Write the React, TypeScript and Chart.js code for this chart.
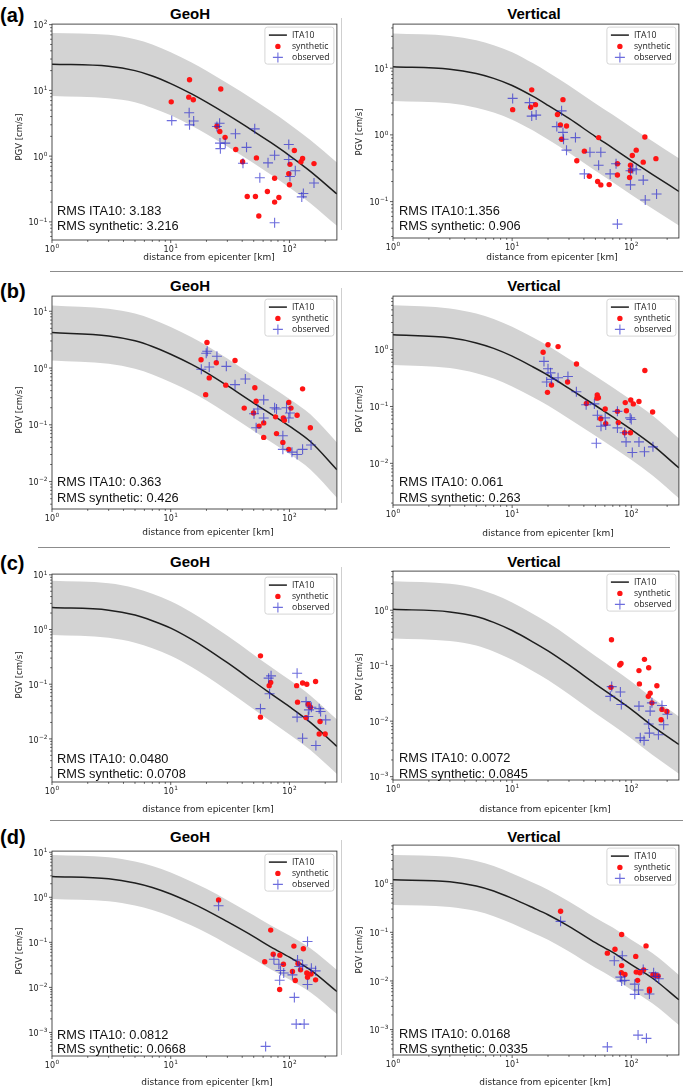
import React, { useEffect, useRef } from 'react';
import { Chart, registerables } from 'chart.js';

Chart.register(...registerables);

// ---------------- shared axis / text content ----------------
const CURVE_DIST = [1, 3, 5, 7, 10, 15, 20, 30, 50, 70, 100, 150, 251];
const X_MIN = 1;
const X_MAX = 251;
const X_TICK_VALUES = [1, 10, 100];
const X_TICK_EXP = ['0', '1', '2'];
const Y_TICK_VALUES = [0.001, 0.01, 0.1, 1, 10, 100];
const Y_TICK_EXP = ['−3', '−2', '−1', '0', '1', '2'];
const TICK_BASE = '10';
const LEGEND_LABELS = ['ITA10', 'synthetic', 'observed'];
const ROW_LABELS = ['(a)', '(b)', '(c)', '(d)'];
const COMPONENT_TITLES = ['GeoH', 'Vertical'];
const X_TITLE = 'distance from epicenter [km]';
const Y_TITLE = 'PGV [cm/s]';
const RMS_ITA10 = ['RMS ITA10: 3.183', 'RMS ITA10:1.356', 'RMS ITA10: 0.363', 'RMS ITA10: 0.061', 'RMS ITA10: 0.0480', 'RMS ITA10: 0.0072', 'RMS ITA10: 0.0812', 'RMS ITA10: 0.0168'];
const RMS_SYN = ['RMS synthetic: 3.216', 'RMS synthetic: 0.906', 'RMS synthetic: 0.426', 'RMS synthetic: 0.263', 'RMS synthetic: 0.0708', 'RMS synthetic: 0.0845', 'RMS synthetic: 0.0668', 'RMS synthetic: 0.0335'];

// ---------------- (a) GeoH ----------------
const A_H_ITA10 = [25.1, 23.3, 20.0, 16.6, 12.7, 8.83, 6.62, 4.28, 2.39, 1.6, 1.02, 0.587, 0.266];
const A_H_UPPER = [75, 70, 60, 50, 38, 26.5, 19.9, 12.8, 7.2, 4.8, 3.06, 1.76, 0.8];
const A_H_LOWER = [8.2, 7.6, 6.6, 5.4, 4.2, 2.9, 2.17, 1.4, 0.78, 0.52, 0.334, 0.192, 0.087];
const A_H_SYN_DIST = [10.1, 14.4, 14.2, 15.5, 26.4, 24.5, 25.9, 28.7, 35.3, 40.3, 44.1, 52.7, 51.7, 55.2, 65.2, 75, 75, 81.5, 98.7, 100, 101, 110, 125, 129, 161];
const A_H_SYN_PGV = [6.7, 14.5, 7.9, 7.2, 10.5, 2.85, 2.37, 1.93, 1.26, 0.82, 0.243, 0.94, 0.243, 0.123, 0.29, 0.46, 0.2, 0.235, 0.54, 0.367, 0.75, 1.22, 0.82, 0.92, 0.77];
const A_H_OBS_DIST = [10.2, 14.3, 14.4, 15.6, 24.5, 25.8, 26, 26.2, 28.8, 35.1, 43.5, 40.6, 51, 56.3, 66, 75, 75, 98.7, 98.7, 101, 112, 127, 131, 161];
const A_H_OBS_PGV = [3.47, 4.57, 2.99, 3.43, 2.82, 3.16, 1.58, 1.3, 1.58, 2.19, 1.36, 0.78, 2.6, 0.47, 0.79, 1.03, 0.097, 1.5, 0.89, 0.49, 0.6, 0.24, 0.27, 0.39];

// ---------------- (a) Vertical ----------------
const A_V_ITA10 = [10.5, 9.66, 8.32, 7.03, 5.5, 3.77, 2.77, 1.76, 0.944, 0.635, 0.413, 0.257, 0.142];
const A_V_UPPER = [33, 30.3, 26.1, 22.1, 17.3, 11.8, 8.7, 5.5, 2.96, 2.0, 1.3, 0.81, 0.446];
const A_V_LOWER = [3.23, 2.97, 2.56, 2.16, 1.69, 1.16, 0.85, 0.54, 0.29, 0.195, 0.127, 0.079, 0.0437];
const A_V_SYN_DIST = [10.1, 14.6, 14.3, 15.7, 24, 26.7, 25.4, 28.6, 26, 40.4, 34.9, 53.2, 44.5, 52.2, 55.5, 65.2, 76.5, 76.5, 96.8, 98.5, 102, 110, 126, 130, 161, 98.5];
const A_V_SYN_PGV = [2.39, 4.73, 2.6, 2.84, 2.02, 3.37, 1.41, 1.36, 0.86, 0.57, 0.41, 0.91, 0.24, 0.2, 0.178, 0.18, 0.37, 0.25, 0.23, 0.35, 0.49, 0.59, 0.39, 0.93, 0.44, 0.29];
const A_V_OBS_DIST = [10.1, 14, 14.6, 15.9, 23.7, 26, 26.7, 27, 28.6, 34, 40.4, 45, 53.2, 55.5, 66.5, 74.5, 76.5, 98.5, 98.5, 103, 110, 126, 131, 163];
const A_V_OBS_PGV = [3.52, 3.04, 1.91, 1.98, 1.33, 2.29, 1.09, 0.86, 0.59, 0.91, 0.26, 0.55, 0.35, 0.55, 0.26, 0.37, 0.046, 0.29, 0.178, 0.31, 0.3, 0.21, 0.106, 0.13];

// ---------------- (b) GeoH ----------------
const B_H_ITA10 = [4.21, 3.68, 3.02, 2.4, 1.75, 1.16, 0.83, 0.488, 0.241, 0.155, 0.0948, 0.0507, 0.0162];
const B_H_UPPER = [12.7, 11.1, 9.1, 7.25, 5.3, 3.5, 2.5, 1.47, 0.73, 0.47, 0.286, 0.153, 0.049];
const B_H_LOWER = [1.36, 1.19, 0.97, 0.77, 0.56, 0.374, 0.268, 0.157, 0.078, 0.05, 0.0306, 0.0164, 0.0052];
const B_H_SYN_DIST = [20.2, 18, 24.2, 34.8, 21.1, 29.1, 19.7, 41.6, 51.1, 52.4, 49.8, 55.5, 60.7, 60.7, 76.4, 77.8, 88, 88.8, 90.6, 98.7, 103, 98.7, 116, 129, 150];
const B_H_SYN_PGV = [2.82, 1.4, 1.24, 1.36, 0.67, 0.5, 0.34, 0.197, 0.45, 0.26, 0.161, 0.095, 0.108, 0.06, 0.138, 0.07, 0.049, 0.132, 0.12, 0.247, 0.197, 0.037, 0.147, 0.43, 0.089];
const B_H_OBS_DIST = [18.1, 19.9, 20.3, 21.1, 24.5, 29.4, 34.8, 42.5, 50.3, 52.4, 54.2, 60.7, 60.7, 75, 77.8, 88, 88, 94.5, 98.7, 101, 105, 116, 129, 152];
const B_H_OBS_PGV = [0.95, 1.82, 1.97, 1.04, 1.61, 1.07, 0.51, 0.64, 0.157, 0.089, 0.19, 0.275, 0.132, 0.2, 0.19, 0.064, 0.037, 0.2, 0.132, 0.161, 0.033, 0.03, 0.037, 0.044];

// ---------------- (b) Vertical ----------------
const B_V_ITA10 = [1.82, 1.61, 1.31, 1.05, 0.766, 0.494, 0.354, 0.208, 0.104, 0.0653, 0.0394, 0.0211, 0.0083];
const B_V_UPPER = [6.0, 5.3, 4.3, 3.47, 2.53, 1.63, 1.17, 0.686, 0.343, 0.215, 0.13, 0.07, 0.0274];
const B_V_LOWER = [0.535, 0.474, 0.385, 0.309, 0.225, 0.145, 0.104, 0.061, 0.0306, 0.0192, 0.0116, 0.0062, 0.00244];
const B_V_SYN_DIST = [18.2, 20, 24.3, 34.7, 21.4, 19.8, 29.2, 42, 51.8, 51.5, 53, 60.4, 55.4, 61, 76.5, 77.8, 89, 91, 88, 99, 104, 98.5, 116, 130, 151];
const B_V_SYN_PGV = [0.9, 1.22, 1.13, 0.56, 0.238, 0.177, 0.27, 0.113, 0.159, 0.14, 0.143, 0.09, 0.061, 0.05, 0.082, 0.052, 0.117, 0.084, 0.0345, 0.13, 0.111, 0.0345, 0.122, 0.43, 0.08];
const B_V_OBS_DIST = [18.5, 20, 19.5, 21, 21.4, 24.3, 29.4, 34.6, 41.8, 49, 52, 55.7, 50.9, 60.4, 61, 76.5, 76.5, 88, 90.4, 97.8, 100, 102, 116, 129, 152];
const B_V_OBS_PGV = [0.62, 0.46, 0.27, 0.39, 0.3, 0.32, 0.336, 0.182, 0.107, 0.111, 0.07, 0.045, 0.0225, 0.063, 0.047, 0.082, 0.042, 0.0345, 0.0238, 0.063, 0.059, 0.0155, 0.0238, 0.016, 0.0195];

// ---------------- (c) GeoH ----------------
const C_H_ITA10 = [2.52, 2.26, 1.84, 1.45, 1.06, 0.66, 0.449, 0.247, 0.112, 0.0665, 0.0388, 0.02, 0.0073];
const C_H_UPPER = [7.8, 7.0, 5.7, 4.5, 3.29, 2.05, 1.39, 0.766, 0.347, 0.206, 0.12, 0.062, 0.0226];
const C_H_LOWER = [0.79, 0.706, 0.575, 0.453, 0.331, 0.206, 0.14, 0.077, 0.035, 0.0208, 0.0121, 0.00625, 0.00228];
const C_H_SYN_DIST = [57, 67.5, 69.5, 57, 115, 117, 129, 140, 144, 150, 138, 166, 181, 178, 200];
const C_H_SYN_PGV = [0.33, 0.094, 0.108, 0.025, 0.094, 0.047, 0.105, 0.1, 0.043, 0.038, 0.0245, 0.112, 0.0208, 0.0123, 0.0123];
const C_H_OBS_DIST = [66.8, 57, 70, 68, 116, 116, 129, 138, 144, 146, 153, 167, 178, 183, 202];
const C_H_OBS_PGV = [0.129, 0.0357, 0.142, 0.067, 0.159, 0.025, 0.0103, 0.048, 0.0256, 0.034, 0.038, 0.0076, 0.0357, 0.0316, 0.0223];

// ---------------- (c) Vertical ----------------
const C_V_ITA10 = [1.04, 0.933, 0.773, 0.604, 0.43, 0.267, 0.185, 0.103, 0.0467, 0.0282, 0.0163, 0.00826, 0.0038];
const C_V_UPPER = [3.33, 2.99, 2.47, 1.93, 1.38, 0.854, 0.592, 0.33, 0.149, 0.09, 0.052, 0.0264, 0.0122];
const C_V_LOWER = [0.31, 0.279, 0.231, 0.18, 0.128, 0.0797, 0.0552, 0.0307, 0.0139, 0.0084, 0.00487, 0.00247, 0.00113];
const C_V_SYN_DIST = [68.2, 67.5, 80, 82, 116, 117, 129, 140, 139, 144, 164, 149, 181, 178, 199];
const C_V_SYN_PGV = [0.293, 0.0407, 0.103, 0.11, 0.0815, 0.047, 0.13, 0.092, 0.028, 0.032, 0.0435, 0.0214, 0.0163, 0.0106, 0.0149];
const C_V_OBS_DIST = [68.5, 66.6, 81, 82.5, 116, 119, 128, 140, 142, 144, 149, 169, 181, 187, 201];
const C_V_OBS_PGV = [0.042, 0.028, 0.0336, 0.02, 0.0187, 0.005, 0.0045, 0.0089, 0.0061, 0.0152, 0.0214, 0.0057, 0.0192, 0.0086, 0.0133];

// ---------------- (d) GeoH ----------------
const D_H_ITA10 = [2.9, 2.58, 2.08, 1.65, 1.18, 0.741, 0.514, 0.287, 0.134, 0.0785, 0.0469, 0.0245, 0.0081];
const D_H_UPPER = [8.7, 7.74, 6.24, 4.95, 3.54, 2.22, 1.54, 0.86, 0.40, 0.236, 0.141, 0.0735, 0.0243];
const D_H_LOWER = [0.92, 0.82, 0.66, 0.524, 0.375, 0.235, 0.163, 0.091, 0.0425, 0.0249, 0.0149, 0.0078, 0.00257];
const D_H_SYN_DIST = [25.3, 69.5, 61.9, 73, 83, 89, 82.7, 109, 106, 112, 131, 118, 124, 140, 142, 152, 166];
const D_H_SYN_PGV = [0.875, 0.187, 0.037, 0.0545, 0.052, 0.0326, 0.009, 0.0826, 0.0226, 0.0142, 0.072, 0.0337, 0.0245, 0.0208, 0.0168, 0.0198, 0.0147];
const D_H_OBS_DIST = [25.3, 74, 81.5, 84, 82.7, 89.5, 106, 117, 121, 129, 142, 142, 153, 166, 110, 114, 133, 63];
const D_H_OBS_PGV = [0.65, 0.042, 0.0326, 0.0237, 0.0144, 0.0208, 0.019, 0.0404, 0.029, 0.0315, 0.104, 0.0116, 0.0267, 0.0233, 0.006, 0.00153, 0.00153, 0.00049];

// ---------------- (d) Vertical ----------------
const D_V_ITA10 = [1.2, 1.1, 0.9, 0.71, 0.5, 0.32, 0.23, 0.133, 0.0614, 0.0385, 0.0217, 0.0115, 0.0041];
const D_V_UPPER = [3.9, 3.57, 2.92, 2.3, 1.62, 1.04, 0.75, 0.432, 0.2, 0.125, 0.0705, 0.0374, 0.0133];
const D_V_LOWER = [0.364, 0.333, 0.273, 0.215, 0.152, 0.097, 0.07, 0.0403, 0.0186, 0.0117, 0.0066, 0.00348, 0.00124];
const D_V_SYN_DIST = [25.5, 63, 73, 83, 83, 82.5, 88.5, 109, 110, 113, 118, 127, 133, 142, 142, 152, 160, 168];
const D_V_SYN_PGV = [0.272, 0.0373, 0.045, 0.09, 0.0207, 0.0147, 0.0136, 0.032, 0.0152, 0.0103, 0.0147, 0.0169, 0.0526, 0.0068, 0.0062, 0.0134, 0.013, 0.0126];
const D_V_OBS_DIST = [25.5, 72, 84, 81, 83, 88, 107, 107, 115, 126, 142, 154, 160, 170, 114, 134, 63];
const D_V_OBS_PGV = [0.168, 0.026, 0.033, 0.012, 0.01, 0.0103, 0.0086, 0.0053, 0.0065, 0.0172, 0.0054, 0.0147, 0.0124, 0.0111, 0.00077, 0.00066, 0.00044];

// ---------------- styling / layout ----------------
const RED = '#ff1414';
const BLUE = 'rgba(40,40,205,0.68)';
const BAND = '#d3d3d3';
const LINE = '#1e1e1e';
const Y_AXIS_W = 52;
const PAD_T = 3;
const PAD_R = 3;
const EXT = 40;

const PANELS = [
  { curve: A_H_ITA10, upper: A_H_UPPER, lower: A_H_LOWER, syn: [A_H_SYN_DIST, A_H_SYN_PGV], obs: [A_H_OBS_DIST, A_H_OBS_PGV], yMin: 0.053, yMax: 102,
    frame: { l: 52, t: 21, r: 340, b: 240 }, rmsY: [211, 226], xT: [209, 258], yT: [20, 137] },
  { curve: A_V_ITA10, upper: A_V_UPPER, lower: A_V_LOWER, syn: [A_V_SYN_DIST, A_V_SYN_PGV], obs: [A_V_OBS_DIST, A_V_OBS_PGV], yMin: 0.0285, yMax: 45.7,
    frame: { l: 393, t: 21, r: 682, b: 238 }, rmsY: [211, 226], xT: [552, 258], yT: [360, 132] },
  { curve: B_H_ITA10, upper: B_H_UPPER, lower: B_H_LOWER, syn: [B_H_SYN_DIST, B_H_SYN_PGV], obs: [B_H_OBS_DIST, B_H_OBS_PGV], yMin: 0.00329, yMax: 18.5,
    frame: { l: 52, t: 293, r: 340, b: 509 }, rmsY: [482, 498], xT: [208, 533], yT: [20, 410] },
  { curve: B_V_ITA10, upper: B_V_UPPER, lower: B_V_LOWER, syn: [B_V_SYN_DIST, B_V_SYN_PGV], obs: [B_V_OBS_DIST, B_V_OBS_PGV], yMin: 0.00185, yMax: 8.73,
    frame: { l: 393, t: 293, r: 682, b: 505 }, rmsY: [482, 498], xT: [548, 534], yT: [360, 409] },
  { curve: C_H_ITA10, upper: C_H_UPPER, lower: C_H_LOWER, syn: [C_H_SYN_DIST, C_H_SYN_PGV], obs: [C_H_OBS_DIST, C_H_OBS_PGV], yMin: 0.00163, yMax: 10.3,
    frame: { l: 52, t: 571, r: 340, b: 782 }, rmsY: [759, 774], xT: [208, 810], yT: [20, 675] },
  { curve: C_V_ITA10, upper: C_V_UPPER, lower: C_V_LOWER, syn: [C_V_SYN_DIST, C_V_SYN_PGV], obs: [C_V_OBS_DIST, C_V_OBS_PGV], yMin: 0.00087, yMax: 5.07,
    frame: { l: 393, t: 568, r: 682, b: 780 }, rmsY: [758, 774], xT: [545, 810], yT: [360, 677] },
  { curve: D_H_ITA10, upper: D_H_UPPER, lower: D_H_LOWER, syn: [D_H_SYN_DIST, D_H_SYN_PGV], obs: [D_H_OBS_DIST, D_H_OBS_PGV], yMin: 0.000333, yMax: 10.6,
    frame: { l: 52, t: 848, r: 340, b: 1056 }, rmsY: [1035, 1049], xT: [207, 1083], yT: [20, 951] },
  { curve: D_V_ITA10, upper: D_V_UPPER, lower: D_V_LOWER, syn: [D_V_SYN_DIST, D_V_SYN_PGV], obs: [D_V_OBS_DIST, D_V_OBS_PGV], yMin: 0.00031, yMax: 6.22,
    frame: { l: 393, t: 842, r: 682, b: 1055 }, rmsY: [1034, 1049], xT: [545, 1083], yT: [360, 950] },
];

const TITLE_Y = [12, 284, 560, 835];
const ROW_LABEL_Y = [16, 292, 564, 838];
const TITLE_X = [190, 534];
const RMS_X = [57, 399];

function pts(xs: number[], ys: number[]) {
  return xs.map((x, i) => ({ x, y: ys[i] }));
}

function minorTicks(min: number, max: number) {
  const out: number[] = [];
  for (let e = Math.floor(Math.log10(min)); e <= Math.ceil(Math.log10(max)); e++) {
    for (let k = 2; k <= 9; k++) {
      const v = k * Math.pow(10, e);
      if (v >= min && v <= max) out.push(v);
    }
  }
  return out;
}

function majorIdx(vals: number[], min: number, max: number) {
  const out: number[] = [];
  vals.forEach((v, i) => { if (v >= min * 0.9999 && v <= max * 1.0001) out.push(i); });
  return out;
}

// draw "10" with a raised exponent; align: 'center' or 'right'
function drawPow(ctx: any, exp: string, x: number, baseline: number, align: string) {
  ctx.font = '8px "DejaVu Sans"';
  const wb = ctx.measureText(TICK_BASE).width;
  ctx.font = '5.8px "DejaVu Sans"';
  const we = ctx.measureText(exp).width;
  const total = wb + we + 0.4;
  const x0 = align === 'center' ? x - total / 2 : x - total;
  ctx.textAlign = 'left';
  ctx.textBaseline = 'alphabetic';
  ctx.font = '8px "DejaVu Sans"';
  ctx.fillText(TICK_BASE, x0, baseline);
  ctx.font = '5.8px "DejaVu Sans"';
  ctx.fillText(exp, x0 + wb + 0.4, baseline - 3.9);
}

function buildConfig(p: any, idx: number) {
  const col = idx % 2;
  const canvasL = p.frame.l - Y_AXIS_W;
  const canvasT = p.frame.t - PAD_T;
  const xMajorI = majorIdx(X_TICK_VALUES, X_MIN, X_MAX);
  const yMajorI = majorIdx(Y_TICK_VALUES, p.yMin, p.yMax);
  const xMajor = xMajorI.map((i) => X_TICK_VALUES[i]);
  const yMajor = yMajorI.map((i) => Y_TICK_VALUES[i]);
  const xMinor = minorTicks(X_MIN, X_MAX);
  const yMinor = minorTicks(p.yMin, p.yMax);
  const xAll = [...xMajor, ...xMinor].sort((a, b) => a - b);
  const yAll = [...yMajor, ...yMinor].sort((a, b) => a - b);

  const decor = {
    id: 'decor' + idx,
    afterDraw(chart: any) {
      const { ctx, chartArea: a, scales } = chart;
      const xs = scales.x;
      const ys = scales.y;
      ctx.save();
      // tick marks
      ctx.strokeStyle = '#333';
      ctx.lineWidth = 0.8;
      ctx.beginPath();
      xMajor.forEach((v) => { const px = xs.getPixelForValue(v); ctx.moveTo(px, a.bottom); ctx.lineTo(px, a.bottom + 3); });
      xMinor.forEach((v) => { const px = xs.getPixelForValue(v); ctx.moveTo(px, a.bottom); ctx.lineTo(px, a.bottom + 1.8); });
      yMajor.forEach((v) => { const py = ys.getPixelForValue(v); ctx.moveTo(a.left, py); ctx.lineTo(a.left - 3, py); });
      yMinor.forEach((v) => { const py = ys.getPixelForValue(v); ctx.moveTo(a.left, py); ctx.lineTo(a.left - 1.8, py); });
      ctx.stroke();
      // frame
      ctx.strokeStyle = '#3a3a3a';
      ctx.lineWidth = 0.9;
      ctx.strokeRect(a.left, a.top, a.right - a.left, a.bottom - a.top);

      // tick labels
      ctx.fillStyle = '#222';
      xMajorI.forEach((i) => drawPow(ctx, X_TICK_EXP[i], xs.getPixelForValue(X_TICK_VALUES[i]), a.bottom + 11.5, 'center'));
      yMajorI.forEach((i) => drawPow(ctx, Y_TICK_EXP[i], a.left - 4.5, ys.getPixelForValue(Y_TICK_VALUES[i]) + 3.6, 'right'));

      // legend
      const bw = 69, bh = 37;
      const bx = a.right - bw - 3, by = a.top + 3;
      ctx.beginPath();
      if (ctx.roundRect) ctx.roundRect(bx, by, bw, bh, 2.5); else ctx.rect(bx, by, bw, bh);
      ctx.fillStyle = 'rgba(255,255,255,0.85)';
      ctx.fill();
      ctx.strokeStyle = '#cccccc';
      ctx.lineWidth = 0.8;
      ctx.stroke();
      const ey = [by + 8, by + 19.3, by + 30.3];
      const hx = bx + 13;
      ctx.strokeStyle = LINE;
      ctx.lineWidth = 1.5;
      ctx.beginPath();
      ctx.moveTo(bx + 4, ey[0]);
      ctx.lineTo(bx + 22, ey[0]);
      ctx.stroke();
      ctx.fillStyle = RED;
      ctx.beginPath();
      ctx.arc(hx, ey[1], 2.7, 0, Math.PI * 2);
      ctx.fill();
      ctx.strokeStyle = BLUE;
      ctx.lineWidth = 1.1;
      ctx.beginPath();
      ctx.moveTo(hx - 5, ey[2]); ctx.lineTo(hx + 5, ey[2]);
      ctx.moveTo(hx, ey[2] - 5); ctx.lineTo(hx, ey[2] + 5);
      ctx.stroke();
      ctx.fillStyle = '#222';
      ctx.font = '8.7px "Open Sans"';
      ctx.textAlign = 'left';
      ctx.textBaseline = 'middle';
      LEGEND_LABELS.forEach((t, i) => ctx.fillText(t, bx + 27, ey[i]));

      // RMS text
      ctx.fillStyle = '#111';
      ctx.font = '12.8px "Liberation Sans"';
      ctx.textAlign = 'left';
      ctx.textBaseline = 'middle';
      ctx.fillText(RMS_ITA10[idx], RMS_X[col] - canvasL, p.rmsY[0] - canvasT);
      ctx.fillText(RMS_SYN[idx], RMS_X[col] - canvasL, p.rmsY[1] - canvasT);

      // axis titles
      ctx.fillStyle = '#222';
      ctx.font = '9px "DejaVu Sans"';
      ctx.textAlign = 'center';
      ctx.textBaseline = 'middle';
      ctx.fillText(X_TITLE, p.xT[0] - canvasL, p.xT[1] - canvasT);
      ctx.save();
      ctx.translate(p.yT[0] - canvasL, p.yT[1] - canvasT);
      ctx.rotate(-Math.PI / 2);
      ctx.font = '8.5px "DejaVu Sans"';
      ctx.fillText(Y_TITLE, 0, 0);
      ctx.restore();
      ctx.restore();
    },
  };

  return {
    type: 'scatter',
    data: {
      datasets: [
        { label: 'band-upper', data: pts(CURVE_DIST, p.upper), showLine: true, pointRadius: 0, borderWidth: 0, borderColor: 'rgba(0,0,0,0)',
          backgroundColor: BAND, fill: '+1', cubicInterpolationMode: 'monotone', tension: 0.4, order: 10 },
        { label: 'band-lower', data: pts(CURVE_DIST, p.lower), showLine: true, pointRadius: 0, borderWidth: 0, borderColor: 'rgba(0,0,0,0)',
          backgroundColor: BAND, fill: false, cubicInterpolationMode: 'monotone', tension: 0.4, order: 9 },
        { label: LEGEND_LABELS[0], data: pts(CURVE_DIST, p.curve), showLine: true, pointRadius: 0, borderWidth: 1.5, borderColor: LINE,
          fill: false, cubicInterpolationMode: 'monotone', tension: 0.4, order: 3 },
        { label: LEGEND_LABELS[1], data: pts(p.syn[0], p.syn[1]), showLine: false, pointStyle: 'circle', pointRadius: 2.7,
          backgroundColor: RED, borderWidth: 0, borderColor: RED, order: 2 },
        { label: LEGEND_LABELS[2], data: pts(p.obs[0], p.obs[1]), showLine: false, pointStyle: 'cross', pointRadius: 5,
          borderColor: BLUE, backgroundColor: BLUE, borderWidth: 1.1, order: 1 },
      ],
    },
    options: {
      responsive: false,
      maintainAspectRatio: false,
      animation: false,
      events: [],
      layout: { padding: { top: PAD_T, right: PAD_R, left: 0, bottom: 0 } },
      plugins: { legend: { display: false }, tooltip: { enabled: false }, title: { display: false } },
      scales: {
        x: {
          type: 'logarithmic', position: 'bottom', min: X_MIN, max: X_MAX,
          grid: { display: false, drawOnChartArea: false },
          border: { display: false },
          title: { display: false },
          ticks: { display: false, autoSkip: false },
          afterBuildTicks: (s: any) => { s.ticks = xAll.map((v) => ({ value: v })); },
          afterFit: (s: any) => { s.height = EXT; s.paddingLeft = 0; s.paddingRight = 0; },
        },
        y: {
          type: 'logarithmic', position: 'left', min: p.yMin, max: p.yMax,
          grid: { display: false, drawOnChartArea: false },
          border: { display: false },
          title: { display: false },
          ticks: { display: false, autoSkip: false },
          afterBuildTicks: (s: any) => { s.ticks = yAll.map((v) => ({ value: v })); },
          afterFit: (s: any) => { s.width = Y_AXIS_W; s.paddingTop = 0; s.paddingBottom = 0; },
        },
      },
    },
    plugins: [decor],
  };
}

function PanelChart({ p, idx }: { p: any; idx: number }) {
  const ref = useRef<HTMLCanvasElement>(null);
  const left = p.frame.l - Y_AXIS_W;
  const top = p.frame.t - PAD_T;
  const w = p.frame.r - p.frame.l + Y_AXIS_W + PAD_R;
  const h = p.frame.b - p.frame.t + PAD_T + EXT;
  useEffect(() => {
    const chart = new Chart(ref.current as HTMLCanvasElement, buildConfig(p, idx) as any);
    return () => chart.destroy();
  }, []);
  return (
    <canvas ref={ref} width={w} height={h}
      style={{ position: 'absolute', left, top, width: w, height: h }} />
  );
}

const SEPARATORS = [
  { top: 270.5, left: 50, width: 633 },
  { top: 546.5, left: 38, width: 632 },
  { top: 819.5, left: 50, width: 633 },
];
const EDGE_LINES = [
  { top: 18, height: 212 },
  { top: 288, height: 215 },
  { top: 567, height: 216 },
  { top: 840, height: 215 },
];

export default function App() {
  return (
    <div style={{ position: 'absolute', left: 0, top: 0, width: 685, height: 1091, background: '#fff', overflow: 'hidden' }}>
      {SEPARATORS.map((s, i) => (
        <div key={'s' + i} style={{ position: 'absolute', top: s.top, left: s.left, width: s.width, height: 1.6, background: '#8c8c8c' }} />
      ))}
      {EDGE_LINES.map((s, i) => (
        <div key={'e' + i} style={{ position: 'absolute', top: s.top, left: 341, width: 1, height: s.height, background: '#cfcfcf' }} />
      ))}
      {ROW_LABELS.map((t, i) => (
        <div key={'r' + i} style={{ position: 'absolute', left: 0, top: ROW_LABEL_Y[i] - 11.8, height: 20, lineHeight: '20px',
          font: 'bold 20px "Liberation Sans", Arial, sans-serif', color: '#000', whiteSpace: 'nowrap' }}>{t}</div>
      ))}
      {TITLE_Y.map((y, r) => COMPONENT_TITLES.map((t, c) => (
        <div key={'t' + r + c} style={{ position: 'absolute', left: TITLE_X[c] - 100, width: 200, top: y - 7.3, height: 15, lineHeight: '15px',
          textAlign: 'center', font: 'bold 15px "Liberation Sans", Arial, sans-serif', color: '#000' }}>{t}</div>
      )))}
      {PANELS.map((p, i) => (
        <PanelChart key={'p' + i} p={p} idx={i} />
      ))}
    </div>
  );
}
